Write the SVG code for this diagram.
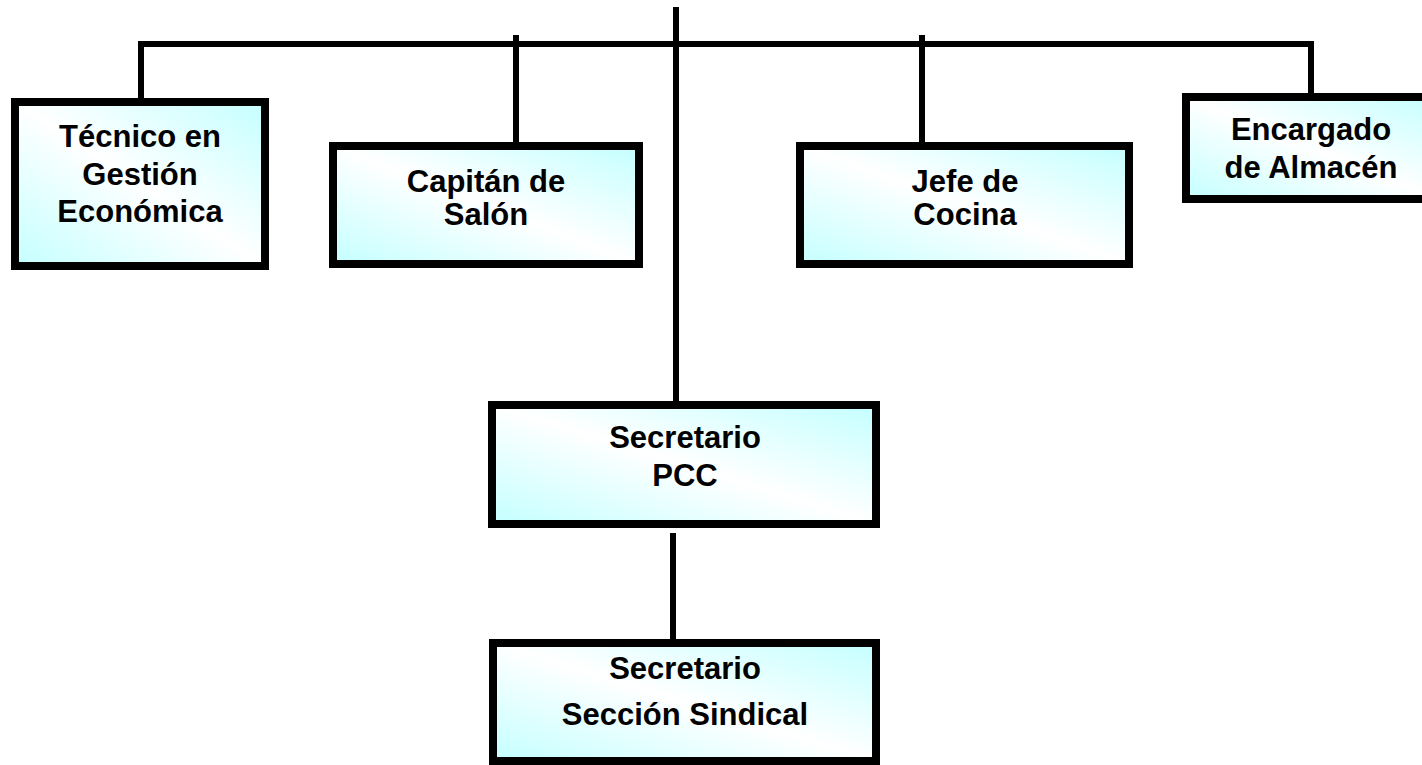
<svg xmlns="http://www.w3.org/2000/svg" width="1422" height="765" viewBox="0 0 1422 765">
<style>
.box{stroke:#000;stroke-width:8;fill:url(#g)}
.t{font-family:"Liberation Sans",Arial,sans-serif;font-weight:bold;font-size:31px;fill:#000;text-anchor:middle}
.c{stroke:#000;stroke-width:6;fill:none}
</style>
<defs>
<linearGradient id="g" x1="1" y1="0" x2="0" y2="1">
<stop offset="0" stop-color="#c4ffff"/>
<stop offset="0.5" stop-color="#ffffff"/>
<stop offset="1" stop-color="#c4ffff"/>
</linearGradient>
</defs>
<rect width="1422" height="765" fill="#fff"/>
<g id="connectors">
<path class="c" d="M676,7 V402"/>
<path class="c" d="M141,99 V44 H1311 V94"/>
<path class="c" d="M516,35 V143"/>
<path class="c" d="M922,35 V143"/>
<path class="c" d="M673,533 V640"/>
</g>
<g id="tecnico">
<rect class="box" x="15" y="102" width="250" height="164"/>
<text class="t" x="140" y="147">Técnico en</text>
<text class="t" x="140" y="185">Gestión</text>
<text class="t" x="140" y="222">Económica</text>
</g>
<g id="capitan">
<rect class="box" x="333" y="146" width="306" height="118"/>
<text class="t" x="486" y="192">Capitán de</text>
<text class="t" x="486" y="225">Salón</text>
</g>
<g id="jefe">
<rect class="box" x="800" y="146" width="329" height="118"/>
<text class="t" x="965" y="192">Jefe de</text>
<text class="t" x="965" y="225">Cocina</text>
</g>
<g id="encargado">
<rect class="box" x="1186" y="97" width="250" height="102"/>
<text class="t" x="1311" y="140">Encargado</text>
<text class="t" x="1311" y="178">de Almacén</text>
</g>
<g id="pcc">
<rect class="box" x="492" y="405" width="384" height="119"/>
<text class="t" x="685" y="448">Secretario</text>
<text class="t" x="685" y="486">PCC</text>
</g>
<g id="sindical">
<rect class="box" x="493" y="643" width="383" height="118"/>
<text class="t" x="685" y="679">Secretario</text>
<text class="t" x="685" y="725">Sección Sindical</text>
</g>
</svg>
